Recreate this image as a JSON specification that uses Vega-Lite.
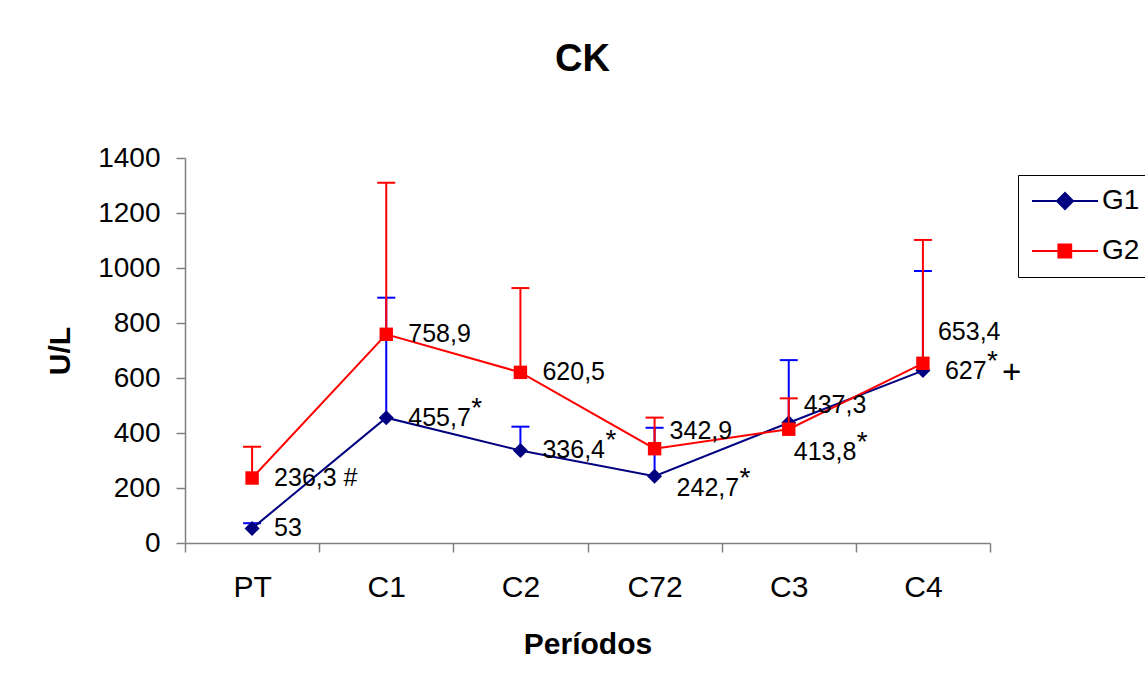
{
  "$schema": "https://vega.github.io/schema/vega-lite/v6.json",
  "autosize": "none",
  "width": 805,
  "height": 385,
  "padding": {"left": 185, "top": 158, "right": 155, "bottom": 149},
  "background": "white",
  "config": {
    "font": "Liberation Sans",
    "view": {"stroke": null},
    "axis": {"grid": false, "domainColor": "#808080", "tickColor": "#808080", "labelColor": "black", "titleColor": "black", "labelFont": "Liberation Sans", "titleFont": "Liberation Sans", "titleFontWeight": "bold", "domainWidth": 1.5, "tickWidth": 1.5},
    "text": {"font": "Liberation Sans", "color": "black", "align": "left", "baseline": "middle"}
  },
  "title": {"text": "CK", "fontSize": 38, "fontWeight": "bold", "font": "Liberation Sans", "anchor": "middle", "frame": "group", "offset": 65, "dx": -5, "color": "black"},
  "data": {"values": [
    {"periodo": "PT", "grupo": "G1", "media": 53, "sup": 72, "lab": "53", "ast": "", "extra": ""},
    {"periodo": "C1", "grupo": "G1", "media": 455.7, "sup": 892, "lab": "455,7", "ast": "*", "extra": ""},
    {"periodo": "C2", "grupo": "G1", "media": 336.4, "sup": 423, "lab": "336,4", "ast": "*", "extra": ""},
    {"periodo": "C72", "grupo": "G1", "media": 242.7, "sup": 419, "lab": "242,7", "ast": "*", "extra": ""},
    {"periodo": "C3", "grupo": "G1", "media": 437.3, "sup": 665, "lab": "437,3", "ast": "", "extra": ""},
    {"periodo": "C4", "grupo": "G1", "media": 627, "sup": 989, "lab": "627", "ast": "*", "extra": "+"},
    {"periodo": "PT", "grupo": "G2", "media": 236.3, "sup": 350, "lab": "236,3 #", "ast": "", "extra": ""},
    {"periodo": "C1", "grupo": "G2", "media": 758.9, "sup": 1310, "lab": "758,9", "ast": "", "extra": ""},
    {"periodo": "C2", "grupo": "G2", "media": 620.5, "sup": 927, "lab": "620,5", "ast": "", "extra": ""},
    {"periodo": "C72", "grupo": "G2", "media": 342.9, "sup": 456, "lab": "342,9", "ast": "", "extra": ""},
    {"periodo": "C3", "grupo": "G2", "media": 413.8, "sup": 526, "lab": "413,8", "ast": "*", "extra": ""},
    {"periodo": "C4", "grupo": "G2", "media": 653.4, "sup": 1102, "lab": "653,4", "ast": "", "extra": ""}
  ]},
  "encoding": {
    "x": {"field": "periodo", "type": "nominal", "sort": ["PT", "C1", "C2", "C72", "C3", "C4"],
      "scale": {"paddingInner": 0, "paddingOuter": 0},
      "axis": {"title": "Períodos", "labelAngle": 0, "labelFontSize": 30, "titleFontSize": 30, "tickBand": "extent", "tickSize": 9, "labelPadding": 20, "titlePadding": 27}},
    "y": {"field": "media", "type": "quantitative",
      "scale": {"domain": [0, 1400], "nice": false, "zero": true},
      "axis": {"title": "U/L", "format": "d", "values": [0, 200, 400, 600, 800, 1000, 1200, 1400], "labelFontSize": 28, "titleFontSize": 30, "tickSize": 9, "labelPadding": 16, "titlePadding": 22}}
  },
  "layer": [
    {"transform": [{"filter": "datum.grupo === 'G1'"}],
     "mark": {"type": "rule", "strokeWidth": 2, "color": "#0000FF"},
     "encoding": {"y2": {"field": "sup"}}},
    {"transform": [{"filter": "datum.grupo === 'G1'"}],
     "mark": {"type": "tick", "size": 18, "thickness": 2, "orient": "horizontal", "color": "#0000FF", "opacity": 1},
     "encoding": {"y": {"field": "sup", "type": "quantitative"}}},
    {"transform": [{"filter": "datum.grupo === 'G1'"}],
     "mark": {"type": "line", "strokeWidth": 2},
     "encoding": {"color": {"field": "grupo", "type": "nominal", "scale": {"domain": ["G1", "G2"], "range": ["#000080", "#FF0000"]},
       "legend": {"title": null, "orient": "none", "legendX": 833, "legendY": 17, "strokeColor": "black", "padding": 12, "labelFontSize": 28, "labelFont": "Liberation Sans", "labelColor": "black", "rowPadding": 22, "symbolSize": 256, "labelOffset": 44,
         "encode": {"symbols": {"update": {
           "shape": {"signal": "datum.value === 'G1' ? 'M-1.5,0H6.75M2.625,-1L3.625,0L2.625,1L1.625,0Z' : 'M-1.5,0H6.75M1.8,-0.8H3.4V0.8H1.8Z'"},
           "fill": {"scale": "color", "field": "value"},
           "stroke": {"scale": "color", "field": "value"},
           "strokeWidth": {"value": 2},
           "opacity": {"value": 1},
           "fillOpacity": {"value": 1}}}}}}}},
    {"transform": [{"filter": "datum.grupo === 'G1'"}],
     "mark": {"type": "point", "shape": "diamond", "filled": true, "size": 225, "opacity": 1},
     "encoding": {"color": {"field": "grupo", "type": "nominal"}}},
    {"transform": [{"filter": "datum.grupo === 'G2'"}],
     "mark": {"type": "rule", "strokeWidth": 2, "color": "#FF0000"},
     "encoding": {"y2": {"field": "sup"}}},
    {"transform": [{"filter": "datum.grupo === 'G2'"}],
     "mark": {"type": "tick", "size": 18, "thickness": 2, "orient": "horizontal", "color": "#FF0000", "opacity": 1},
     "encoding": {"y": {"field": "sup", "type": "quantitative"}}},
    {"transform": [{"filter": "datum.grupo === 'G2'"}],
     "mark": {"type": "line", "strokeWidth": 2},
     "encoding": {"color": {"field": "grupo", "type": "nominal"}}},
    {"transform": [{"filter": "datum.grupo === 'G2'"}],
     "mark": {"type": "point", "shape": "square", "filled": true, "size": 180, "opacity": 1},
     "encoding": {"color": {"field": "grupo", "type": "nominal"}}},
    {"transform": [{"filter": {"field": "lab", "oneOf": ["53", "236,3 #", "455,7", "336,4", "758,9", "620,5", "627"]}}],
     "mark": {"type": "text", "fontSize": 25, "dx": 22, "dy": 0},
     "encoding": {"text": {"field": "lab"}}},
    {"transform": [{"filter": {"field": "lab", "oneOf": ["242,7"]}}],
     "mark": {"type": "text", "fontSize": 25, "dx": 22, "dy": 12},
     "encoding": {"text": {"field": "lab"}}},
    {"transform": [{"filter": {"field": "lab", "oneOf": ["342,9", "437,3"]}}],
     "mark": {"type": "text", "fontSize": 25, "dx": 15, "dy": -18},
     "encoding": {"text": {"field": "lab"}}},
    {"transform": [{"filter": {"field": "lab", "oneOf": ["413,8"]}}],
     "mark": {"type": "text", "fontSize": 25, "dx": 5, "dy": 23},
     "encoding": {"text": {"field": "lab"}}},
    {"transform": [{"filter": {"field": "lab", "oneOf": ["653,4"]}}],
     "mark": {"type": "text", "fontSize": 25, "dx": 15, "dy": -31},
     "encoding": {"text": {"field": "lab"}}},
    {"transform": [{"filter": {"field": "lab", "oneOf": ["455,7", "336,4"]}}],
     "mark": {"type": "text", "fontSize": 28, "dx": 85, "dy": -9},
     "encoding": {"text": {"field": "ast"}}},
    {"transform": [{"filter": {"field": "lab", "oneOf": ["242,7"]}}],
     "mark": {"type": "text", "fontSize": 28, "dx": 85, "dy": 3},
     "encoding": {"text": {"field": "ast"}}},
    {"transform": [{"filter": {"field": "lab", "oneOf": ["413,8"]}}],
     "mark": {"type": "text", "fontSize": 28, "dx": 68, "dy": 14},
     "encoding": {"text": {"field": "ast"}}},
    {"transform": [{"filter": {"field": "lab", "oneOf": ["627"]}}],
     "mark": {"type": "text", "fontSize": 28, "dx": 64, "dy": -9},
     "encoding": {"text": {"field": "ast"}}},
    {"transform": [{"filter": {"field": "lab", "oneOf": ["627"]}}],
     "mark": {"type": "text", "fontSize": 33, "dx": 79, "dy": 2},
     "encoding": {"text": {"field": "extra"}}}
  ]
}
